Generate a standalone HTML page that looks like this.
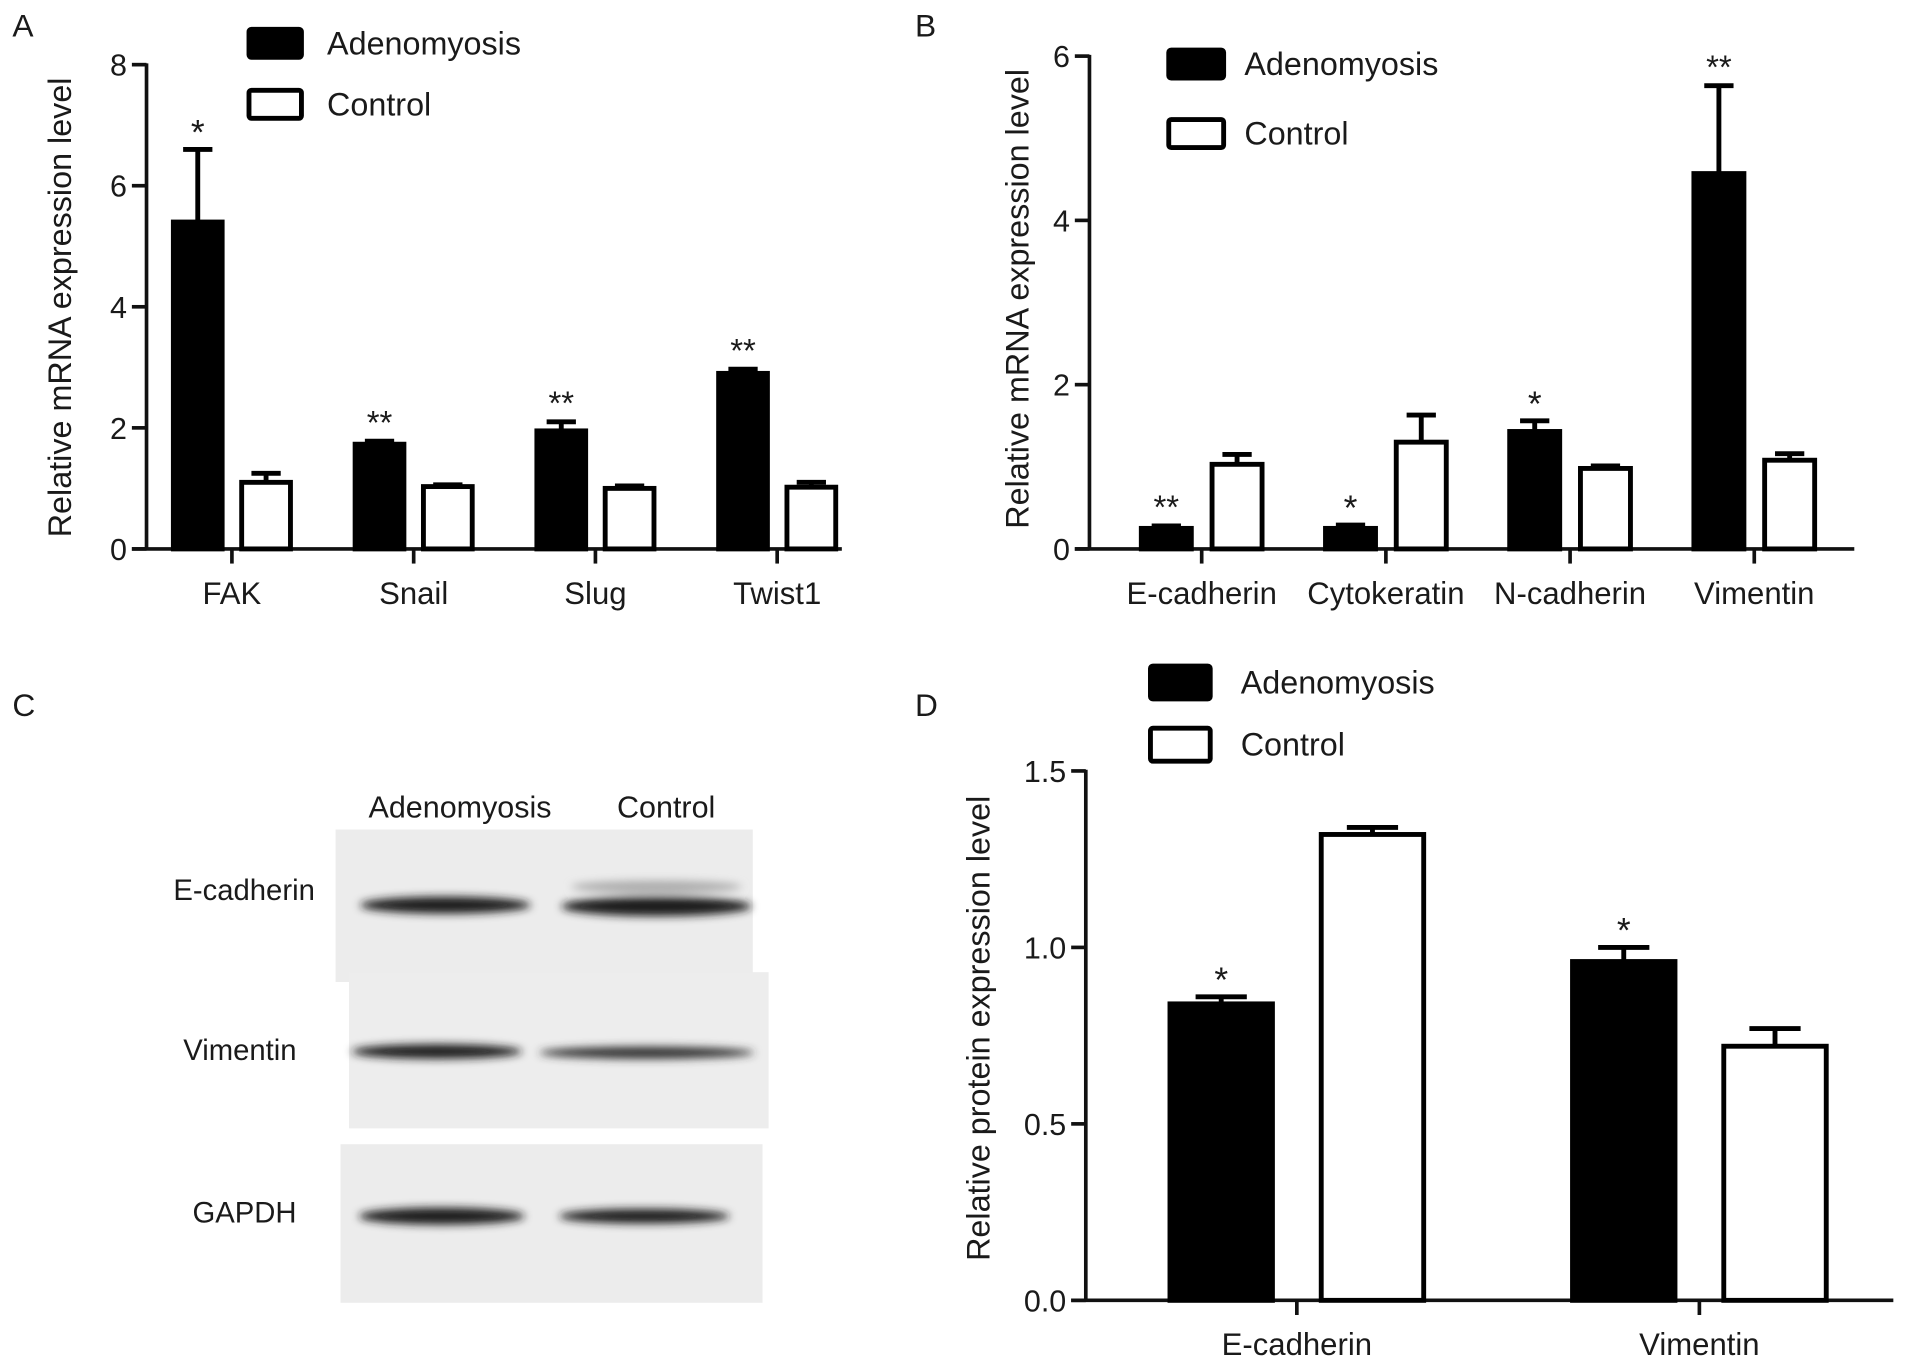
<!DOCTYPE html>
<html><head><meta charset="utf-8"><style>
html,body{margin:0;padding:0;background:#fff}
svg{display:block}
text{font-family:"Liberation Sans",Arial,sans-serif;fill:#1a1a1a}
</style></head><body>
<svg id="fig" width="1913" height="1365" viewBox="0 0 1568 1119" xmlns="http://www.w3.org/2000/svg">
<defs>
<filter id="blur" x="-20%" y="-100%" width="140%" height="300%"><feGaussianBlur stdDeviation="3.5"/></filter>
</defs>
<g id="panelA"></g>
<g id="panelB"></g>
<g id="panelD"></g>
<g id="panelC">
  <text x="10" y="587" font-size="26">C</text>
  <text x="377" y="670" font-size="25" text-anchor="middle">Adenomyosis</text>
  <text x="546" y="670" font-size="25" text-anchor="middle">Control</text>
  <rect x="275" y="680" width="342" height="125" fill="#ececec"/>
  <rect x="286" y="797" width="344" height="128" fill="#ededed"/>
  <rect x="279" y="938" width="346" height="130" fill="#ececec"/>
  <g filter="url(#blur)" fill="#1c1c1c">
    <ellipse cx="365" cy="742" rx="70" ry="7"/>
    <ellipse cx="538" cy="743" rx="78" ry="8"/>
    <ellipse cx="538" cy="727" rx="70" ry="5" fill="#aaa"/>
    <ellipse cx="358" cy="862" rx="70" ry="6"/>
    <ellipse cx="530" cy="863" rx="88" ry="5" fill="#333"/>
    <ellipse cx="362" cy="997" rx="68" ry="7"/>
    <ellipse cx="528" cy="997" rx="70" ry="6"/>
  </g>
  <text x="258" y="738" font-size="24" text-anchor="end">E-cadherin</text>
  <text x="243" y="869" font-size="24" text-anchor="end">Vimentin</text>
  <text x="243" y="1002" font-size="24" text-anchor="end">GAPDH</text>
</g>
</svg>
<script>
// Panel A data
const catsA = ["FAK","Snail","Slug","Twist1"];
const adenoA = [5.4, 1.73, 1.95, 2.9];
const adenoErrA = [1.2, 0.05, 0.15, 0.07];
const ctrlA = [1.1, 1.03, 1.0, 1.02];
const ctrlErrA = [0.15, 0.03, 0.04, 0.08];
const sigA = ["*","**","**","**"];
const ticksA = ["0","2","4","6","8"];
// Panel B data
const catsB = ["E-cadherin","Cytokeratin","N-cadherin","Vimentin"];
const adenoB = [0.25, 0.25, 1.43, 4.57];
const adenoErrB = [0.03, 0.04, 0.13, 1.07];
const ctrlB = [1.03, 1.3, 0.98, 1.08];
const ctrlErrB = [0.12, 0.33, 0.03, 0.08];
const sigB = ["**","*","*","**"];
const ticksB = ["0","2","4","6"];
// Panel D data
const catsD = ["E-cadherin","Vimentin"];
const adenoD = [0.84, 0.96];
const adenoErrD = [0.02, 0.04];
const ctrlD = [1.32, 0.72];
const ctrlErrD = [0.02, 0.05];
const sigD = ["*","*"];
const ticksD = ["0.0","0.5","1.0","1.5"];

const NS = "http://www.w3.org/2000/svg";
function mk(parent, tag, attrs, txt){
  const e = document.createElementNS(NS, tag);
  for (const k in attrs) e.setAttribute(k, attrs[k]);
  if (txt !== undefined) e.textContent = txt;
  parent.appendChild(e);
  return e;
}

function drawPanel(g, cfg){
  const yS = v => cfg.y0 - (v / cfg.ymax) * (cfg.y0 - cfg.yTop);
  const xS = i => cfg.x0c + i * cfg.step;
  let t = mk(g,"text",{x:cfg.lab[0],y:cfg.lab[1],"font-size":26},cfg.label);
  
  
  let ya = mk(g,"line",{x1:cfg.ax,y1:cfg.yTop-1,x2:cfg.ax,y2:cfg.y0,stroke:"#111","stroke-width":3});
  
  
  let xa = mk(g,"line",{x1:cfg.ax-12,y1:cfg.y0,x2:cfg.xEnd,y2:cfg.y0,stroke:"#111","stroke-width":3});
  
  
  cfg.ticks.forEach(tk => {
    const y = yS(parseFloat(tk));
    mk(g,"line",{x1:cfg.ax-12,y1:y,x2:cfg.ax,y2:y,stroke:"#111","stroke-width":3});
    let tl = mk(g,"text",{x:cfg.ax-16,y:y+9,"font-size":25,"text-anchor":"end"},tk);
    
    
  });
  let yl = mk(g,"text",{x:0,y:0,"font-size":26.5,"text-anchor":"middle",transform:`translate(${cfg.ylab[0]},${cfg.ylab[1]}) rotate(-90)`},cfg.ytitle);
  
  
  cfg.cats.forEach((c,i) => {
    const cx = xS(i);
    mk(g,"line",{x1:cx,y1:cfg.y0,x2:cx,y2:cfg.y0+12,stroke:"#111","stroke-width":3});
    let xl = mk(g,"text",{x:cx,y:cfg.y0+45,"font-size":25.5,"text-anchor":"middle"},c);
    
    
    [[cfg.adeno,cfg.adenoErr,-1,"#000"],[cfg.ctrl,cfg.ctrlErr,1,"#fff"]].forEach(([vals,errs,side,fill],s) => {
      const bc = cx + side * cfg.off;
      const top = yS(vals[i]);
      const etop = yS(vals[i]+errs[i]);
      mk(g,"line",{x1:bc,y1:top,x2:bc,y2:etop,stroke:"#000","stroke-width":4});
      mk(g,"line",{x1:bc-cfg.cap/2,y1:etop,x2:bc+cfg.cap/2,y2:etop,stroke:"#000","stroke-width":4});
      let r = mk(g,"rect",{x:bc-cfg.bw/2,y:top,width:cfg.bw,height:cfg.y0-top,fill:fill,stroke:"#000","stroke-width":4});
      
      
      if (s===0){
        const one = cfg.sig[i]==="*";
        let st = mk(g,"text",{x:bc,y:etop-(one?4:6),"font-size":one?29:27,"text-anchor":"middle",fill:one?"#555":"#1a1a1a"},cfg.sig[i]);
        
        
      }
    });
  });
  const L = cfg.leg;
  let l1 = mk(g,"rect",{x:L.x,y:L.y1,width:L.w,height:L.h,fill:"#000",stroke:"#000","stroke-width":4,rx:2});
  
  
  let lt1 = mk(g,"text",{x:L.tx,y:L.y1+L.h/2+9,"font-size":26.5},"Adenomyosis");
  
  
  let l2 = mk(g,"rect",{x:L.x,y:L.y2,width:L.w,height:L.h,fill:"#fff",stroke:"#000","stroke-width":4,rx:2});
  
  
  let lt2 = mk(g,"text",{x:L.tx,y:L.y2+L.h/2+9,"font-size":26.5},"Control");
  
  
}

drawPanel(document.getElementById("panelA"),{
  label:"A",lab:[10,30],ax:120,y0:450,yTop:53,ymax:8,xEnd:690,x0c:190,step:149,off:28,bw:40,cap:24,
  cats:catsA,adeno:adenoA,adenoErr:adenoErrA,ctrl:ctrlA,ctrlErr:ctrlErrA,sig:sigA,ticks:ticksA,
  ytitle:"Relative mRNA expression level",ylab:[58,252],
  leg:{x:204,y1:24,y2:74,w:43,h:23,tx:268}
});
drawPanel(document.getElementById("panelB"),{
  label:"B",lab:[750,30],ax:893,y0:450,yTop:46,ymax:6,xEnd:1520,x0c:985,step:151,off:29,bw:41,cap:24,
  cats:catsB,adeno:adenoB,adenoErr:adenoErrB,ctrl:ctrlB,ctrlErr:ctrlErrB,sig:sigB,ticks:ticksB,
  ytitle:"Relative mRNA expression level",ylab:[843,245],
  leg:{x:958,y1:41,y2:98,w:45,h:23,tx:1020}
});
drawPanel(document.getElementById("panelD"),{
  label:"D",lab:[750,587],ax:890,y0:1066,yTop:632,ymax:1.5,xEnd:1552,x0c:1063,step:330,off:62,bw:84,cap:42,
  cats:catsD,adeno:adenoD,adenoErr:adenoErrD,ctrl:ctrlD,ctrlErr:ctrlErrD,sig:sigD,ticks:ticksD,
  ytitle:"Relative protein expression level",ylab:[811,843],
  leg:{x:943,y1:546,y2:597,w:49,h:27,tx:1017}
});
</script>
</body></html>
